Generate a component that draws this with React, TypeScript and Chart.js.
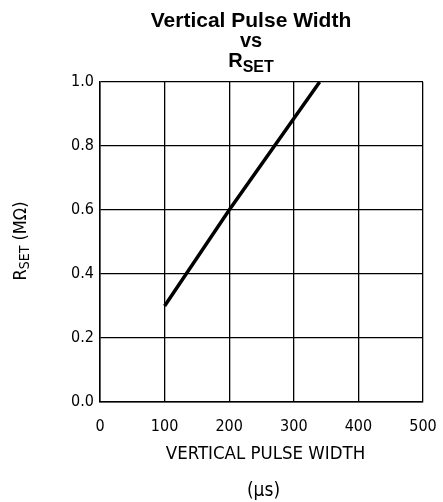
import React, { useEffect, useRef } from "react";
import { Chart, registerables } from "chart.js";

Chart.register(...registerables);

const pulseWidthUs: number[] = [100, 200, 340];
const rsetMOhm: number[] = [0.3, 0.6, 1.0];
const xTicks: number[] = [0, 100, 200, 300, 400, 500];
const yTicks: number[] = [0, 0.2, 0.4, 0.6, 0.8, 1.0];
const titleLines: string[] = ["Vertical Pulse Width", "vs"];
const xTitleLines: string[] = ["VERTICAL PULSE WIDTH", "(\u03BCs)"];

const TICK_FONT = "'DejaVu Sans Condensed', 'DejaVu Sans', sans-serif";
const TITLE_FONT = "'Liberation Sans', Arial, sans-serif";

const textPlugin = {
  id: "customText",
  afterDraw(chart: any) {
    const ctx = chart.ctx as CanvasRenderingContext2D;
    const area = chart.chartArea;
    ctx.save();
    ctx.fillStyle = "#000";
    // Title
    ctx.textAlign = "center";
    ctx.textBaseline = "alphabetic";
    ctx.font = `bold 21px ${TITLE_FONT}`;
    const tx = 251;
    ctx.fillText(titleLines[0], tx, 27);
    ctx.font = `bold 20px ${TITLE_FONT}`;
    ctx.fillText(titleLines[1], tx, 47);
    // R_SET
    ctx.font = `bold 20px ${TITLE_FONT}`;
    const rW = ctx.measureText("R").width;
    ctx.font = `bold 16px ${TITLE_FONT}`;
    const sW = ctx.measureText("SET").width;
    const startX = tx - (rW + sW) / 2;
    ctx.textAlign = "left";
    ctx.font = `bold 20px ${TITLE_FONT}`;
    ctx.fillText("R", startX, 67);
    ctx.font = `bold 16px ${TITLE_FONT}`;
    ctx.fillText("SET", startX + rW, 72);

    // X axis title
    const cx = (area.left + area.right) / 2 + 4;
    ctx.textAlign = "center";
    ctx.textBaseline = "middle";
    ctx.font = `18.5px ${TICK_FONT}`;
    ctx.fillText(xTitleLines[0], cx, 454);
    ctx.font = `19px ${TICK_FONT}`;
    ctx.fillText(xTitleLines[1], cx - 2, 491);

    // Y axis title (rotated)
    ctx.translate(21, 241);
    ctx.rotate(-Math.PI / 2);
    ctx.textBaseline = "middle";
    ctx.font = `18px ${TICK_FONT}`;
    const w1 = ctx.measureText("R").width;
    ctx.font = `14px ${TICK_FONT}`;
    const w2 = ctx.measureText("SET").width;
    ctx.font = `18px ${TICK_FONT}`;
    const tail = " (M\u03A9)";
    const w3 = ctx.measureText(tail).width;
    const x0 = -(w1 + w2 + w3) / 2;
    ctx.textAlign = "left";
    ctx.fillText("R", x0, 0);
    ctx.font = `14px ${TICK_FONT}`;
    ctx.fillText("SET", x0 + w1, 4);
    ctx.font = `18px ${TICK_FONT}`;
    ctx.fillText(tail, x0 + w1 + w2, 0);
    ctx.restore();
  },
};

export default function App() {
  const canvasRef = useRef<HTMLCanvasElement | null>(null);

  useEffect(() => {
    if (!canvasRef.current) return;
    const points = pulseWidthUs.map((x, i) => ({ x, y: rsetMOhm[i] }));
    const chart = new Chart(canvasRef.current, {
      type: "line",
      data: {
        datasets: [
          {
            data: points,
            borderColor: "#000",
            borderWidth: 3.5,
            pointRadius: 0,
            fill: false,
            tension: 0,
            borderCapStyle: "butt",
          },
        ],
      },
      options: {
        responsive: false,
        animation: false,
        devicePixelRatio: 1,
        layout: { padding: { left: 0, top: 82, right: 20, bottom: 0 } },
        plugins: {
          legend: { display: false },
          tooltip: { enabled: false },
          title: { display: false },
        },
        scales: {
          x: {
            type: "linear",
            min: xTicks[0],
            max: xTicks[xTicks.length - 1],
            afterBuildTicks: (scale: any) => {
              scale.ticks = xTicks.map((v) => ({ value: v }));
            },
            afterFit: (scale: any) => {
              scale.height = 100;
              scale.paddingLeft = 0;
              scale.paddingRight = 0;
            },
            ticks: {
              color: "#000",
              font: { family: TICK_FONT, size: 16 },
              padding: 15,
              maxRotation: 0,
              callback: (v: any) => String(v),
            },
            grid: { color: "#000", lineWidth: 1.3, drawTicks: false },
            border: { display: true, color: "#000", width: 1.5 },
          },
          y: {
            type: "linear",
            min: yTicks[0],
            max: yTicks[yTicks.length - 1],
            afterBuildTicks: (scale: any) => {
              scale.ticks = yTicks.map((v) => ({ value: v }));
            },
            afterFit: (scale: any) => {
              scale.width = 100;
              scale.paddingTop = 0;
              scale.paddingBottom = 0;
            },
            ticks: {
              color: "#000",
              font: { family: TICK_FONT, size: 16 },
              padding: 6,
              callback: (v: any) => Number(v).toFixed(1),
            },
            grid: { color: "#000", lineWidth: 1.3, drawTicks: false },
            border: { display: true, color: "#000", width: 1.5 },
          },
        },
      },
      plugins: [textPlugin],
    } as any);
    return () => chart.destroy();
  }, []);

  return (
    <div style={{ position: "absolute", left: 0, top: 0, width: 443, height: 502, background: "#fff" }}>
      <canvas ref={canvasRef} width={443} height={502} />
    </div>
  );
}
